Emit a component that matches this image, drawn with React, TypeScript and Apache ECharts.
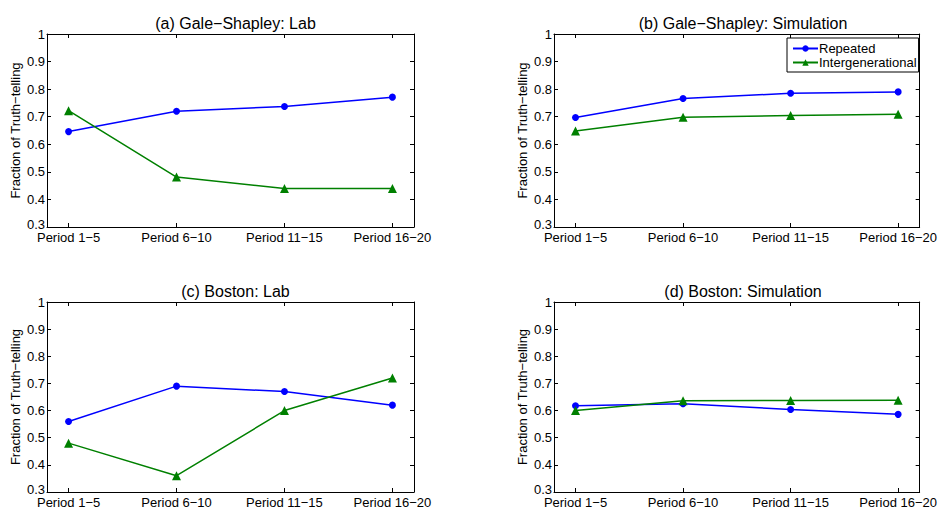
import React, { useEffect, useRef } from "react";
import * as echarts from "echarts";

const categories = ["Period 1−5", "Period 6−10", "Period 11−15", "Period 16−20"];
const yTicks = [0.3, 0.4, 0.5, 0.6, 0.7, 0.8, 0.9, 1];
const seriesNames = ["Repeated", "Intergenerational"];
const panelTitles = [
  "(a) Gale−Shapley: Lab",
  "(b) Gale−Shapley: Simulation",
  "(c) Boston: Lab",
  "(d) Boston: Simulation",
];
const repeatedA = [0.646, 0.72, 0.737, 0.771];
const interA = [0.722, 0.481, 0.44, 0.44];
const repeatedB = [0.697, 0.766, 0.785, 0.79];
const interB = [0.648, 0.698, 0.704, 0.709];
const repeatedC = [0.56, 0.69, 0.67, 0.62];
const interC = [0.48, 0.36, 0.6, 0.72];
const repeatedD = [0.618, 0.625, 0.604, 0.586];
const interD = [0.6, 0.636, 0.637, 0.638];

const repeatedAll = [repeatedA, repeatedB, repeatedC, repeatedD];
const interAll = [interA, interB, interC, interD];

const grids = [
  { left: 47, top: 34, width: 367, height: 193 },
  { left: 554, top: 34, width: 368, height: 193 },
  { left: 47, top: 302, width: 367, height: 191 },
  { left: 554, top: 302, width: 368, height: 191 },
];

const FONT = "Liberation Sans, Arial, Helvetica, sans-serif";
const xPositions = categories.map((_, i) => i + 1);

export default function App() {
  const ref = useRef<HTMLDivElement>(null);
  useEffect(() => {
    if (!ref.current) return;
    const chart = echarts.init(ref.current, undefined, { renderer: "svg" });
    const xAxes: any[] = [];
    const yAxes: any[] = [];
    const series: any[] = [];
    const titles: any[] = [];
    grids.forEach((g, i) => {
      titles.push({
        text: panelTitles[i],
        left: g.left + g.width / 2,
        top: g.top - 24,
        textAlign: "center",
        textStyle: { fontFamily: FONT, fontSize: 16, fontWeight: "normal", color: "#000" },
      });
      const xBase = {
        type: "value",
        gridIndex: i,
        min: 0.8,
        max: 4.2,
        splitLine: { show: false },
        axisLine: { show: true, onZero: false, lineStyle: { color: "#000", width: 1 } },
        axisTick: { show: true, inside: true, length: 4, customValues: xPositions, lineStyle: { color: "#000" } },
      };
      xAxes.push({
        ...xBase,
        position: "bottom",
        axisLabel: {
          show: true,
          customValues: xPositions,
          formatter: (v: number) => categories[Math.round(v) - 1] ?? "",
          margin: 4,
          color: "#000",
          fontFamily: FONT,
          fontSize: 13,
        },
      });
      xAxes.push({ ...xBase, position: "top", axisLabel: { show: false } });
      const yBase = {
        type: "value",
        gridIndex: i,
        min: 0.3,
        max: 1,
        interval: 0.1,
        splitLine: { show: false },
        axisLine: { show: true, onZero: false, lineStyle: { color: "#000", width: 1 } },
        axisTick: { show: true, inside: true, length: 4, lineStyle: { color: "#000" } },
      };
      yAxes.push({
        ...yBase,
        position: "left",
        name: "Fraction of Truth−telling",
        nameLocation: "middle",
        nameGap: 25,
        nameRotate: 90,
        nameTextStyle: { fontFamily: FONT, fontSize: 13, color: "#000" },
        axisLabel: {
          show: true,
          margin: 2,
          color: "#000",
          fontFamily: FONT,
          fontSize: 13,
          formatter: (v: number) => {
            const t = String(Math.round(v * 10) / 10);
            return Math.abs(v - yTicks[0]) < 1e-6 ? `{low|${t}}` : t;
          },
          rich: {
            low: { fontFamily: FONT, fontSize: 13, color: "#000", padding: [0, 0, 6, 0] },
          },
        },
      });
      yAxes.push({ ...yBase, position: "right", axisLabel: { show: false } });
      series.push({
        type: "line",
        name: seriesNames[0],
        xAxisIndex: i * 2,
        yAxisIndex: i * 2,
        data: repeatedAll[i].map((v, k) => [xPositions[k], v]),
        symbol: "circle",
        symbolSize: 7,
        color: "#0000ff",
        lineStyle: { color: "#0000ff", width: 1.5 },
        itemStyle: { color: "#0000ff" },
      });
      series.push({
        type: "line",
        name: seriesNames[1],
        xAxisIndex: i * 2,
        yAxisIndex: i * 2,
        data: interAll[i].map((v, k) => [xPositions[k], v]),
        symbol: "triangle",
        symbolSize: 9,
        color: "#008000",
        lineStyle: { color: "#008000", width: 1.5 },
        itemStyle: { color: "#008000" },
      });
    });
    chart.setOption({
      animation: false,
      backgroundColor: "#fff",
      title: titles,
      grid: grids.map((g) => ({ ...g, show: false })),
      xAxis: xAxes,
      yAxis: yAxes,
      legend: {
        data: seriesNames,
        orient: "vertical",
        left: 787,
        top: 38,
        backgroundColor: "#fff",
        borderColor: "#000",
        borderWidth: 1,
        borderRadius: 0,
        padding: [4, 2, 3, 5],
        itemGap: 1,
        itemWidth: 25,
        itemHeight: 8,
        selectedMode: false,
        textStyle: { fontFamily: FONT, fontSize: 13, color: "#000", padding: [0, 0, 0, -4] },
      },
      series,
    });
    return () => chart.dispose();
  }, []);
  return (
    <div
      ref={ref}
      style={{ position: "fixed", left: 0, top: 0, width: 940, height: 509 }}
    />
  );
}
